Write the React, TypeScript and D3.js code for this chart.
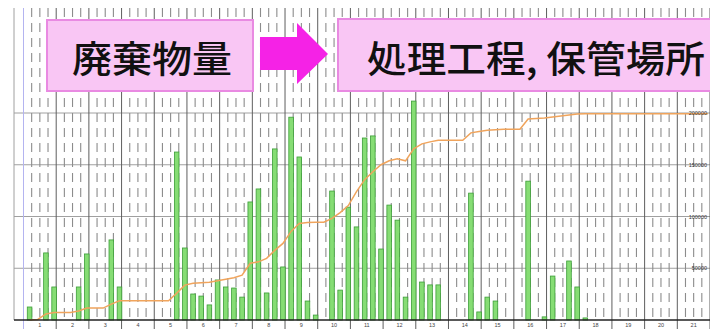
import * as d3 from 'd3';
import React from 'react';

// month groups along the bottom (4 week slots each)
const groupLabels = [
  '1', '2', '3', '4', '5', '6', '7', '8', '9', '10', '11',
  '12', '13', '14', '15', '16', '17', '18', '19', '20', '21',
];

// weekly waste amount (bars, left axis)
const barSlots = [
  0, 2, 3, 6, 7, 10, 11, 18, 19, 20, 21, 22, 23, 24, 25, 26, 27, 28, 29, 30,
  31, 32, 33, 34, 35, 37, 38, 39, 40, 41, 42, 43, 44, 45, 46, 47, 48, 49, 50,
  54, 55, 56, 57, 61, 63, 64, 66, 67, 68,
];
const barValues = [
  250, 1290, 635, 635, 1270, 1540, 635, 3230, 1385, 500, 460, 290, 770, 635, 615, 440, 2270, 2520, 520, 3290,
  1020, 3900, 3135, 365, 95, 2480, 575, 2170, 1790, 3500, 3540, 1365, 2210, 1920, 440, 4210, 730, 675, 675,
  2440, 155, 440, 365, 2670, 60, 845, 1135, 635, 40,
];

// cumulative amount per week slot (line, right axis)
const cumulative = [
  0, 500, 5800, 7200, 7200, 7200, 8700, 11500, 11500, 11500,
  15400, 18600, 18600, 18600, 18600, 18600, 18600, 18600, 26000, 33700,
  35600, 36000, 36500, 38000, 39400, 40900, 43300, 54800, 56200, 59600,
  67300, 74000, 85600, 93300, 94200, 94500, 94500, 98100, 103800, 110600,
  124000, 135600, 143300, 150000, 153800, 155800, 153800, 165400, 170200, 172100,
  173600, 173700, 173700, 173700, 180800, 182200, 183400, 183900, 184300, 184300,
  184300, 194200, 194700, 195200, 196200, 197100, 198100, 199000, 199300, 199300,
  199300, 199300, 199300, 199300, 199300, 199300, 199300, 199300, 199300, 199300,
  199300, 199300, 199300, 199300,
];

const rightTicks = [50000, 100000, 150000, 200000];

const W = 710;
const H = 329;
const top = 8;
const base = 320;
const left = 14;

const App = () => {
  const nSlots = groupLabels.length * 4;
  const x = d3.scaleLinear().domain([0, nSlots]).range([23.5, 710]);
  const yBar = d3.scaleLinear().domain([0, 6000]).range([base, top]);
  const yLine = d3.scaleLinear().domain([0, 200000]).range([base, 113]);
  const slotX = (k: number) => x(k + 0.5) + 2;

  const line = d3
    .line<number>()
    .x((_, i) => slotX(i))
    .y(d => yLine(d));

  const dashed: number[] = [];
  groupLabels.forEach((_, g) => {
    for (let j = 1; j < 4; j++) dashed.push(g * 4 + j);
  });

  const cjk = "'Noto Sans CJK JP', 'Noto Sans CJK SC', sans-serif";

  return (
    <svg
      width={W}
      height={H}
      style={{ position: 'absolute', left: 0, top: 0, background: '#fff' }}
      fontFamily="Arial, 'Liberation Sans', sans-serif"
    >
      {/* horizontal grid */}
      {rightTicks.map(t => (
        <line key={t} x1={left} x2={W} y1={yLine(t)} y2={yLine(t)} stroke="#a0a0a0" strokeWidth={1} />
      ))}
      <line x1={left} x2={left} y1={top} y2={base} stroke="#a0a0a0" />

      {/* week dashes */}
      {dashed.map(k => (
        <line
          key={k}
          x1={x(k)}
          x2={x(k)}
          y1={top}
          y2={base}
          stroke="#8c8c8c"
          strokeWidth={1.1}
          strokeDasharray="9,6"
        />
      ))}
      {/* month lines */}
      {d3.range(groupLabels.length + 1).map(g => (
        <line
          key={g}
          x1={x(g * 4)}
          x2={x(g * 4)}
          y1={top}
          y2={H}
          stroke={g === 0 ? '#b4b4f0' : '#5e5e5e'}
          strokeWidth={1}
        />
      ))}

      {/* bars */}
      {barSlots.map((k, i) => (
        <rect
          key={k}
          x={slotX(k) - 2.3}
          y={yBar(barValues[i])}
          width={4.6}
          height={base - yBar(barValues[i])}
          fill="#86dd74"
          stroke="#3c9e38"
          strokeWidth={0.8}
        />
      ))}

      {/* cumulative line */}
      <path d={line(cumulative) || ''} fill="none" stroke="#f0a45c" strokeWidth={1.5} />

      {/* axis */}
      <line x1={left} x2={W} y1={base} y2={base} stroke="#222" strokeWidth={1.5} />
      {groupLabels.map((lab, g) => (
        <text key={lab} x={x(g * 4 + 2)} y={327} fontSize={5.5} fill="#444" textAnchor="middle">
          {lab}
        </text>
      ))}
      {rightTicks.map(t => (
        <text key={t} x={707} y={yLine(t) + 2} fontSize={5.5} fill="#333" textAnchor="end">
          {t}
        </text>
      ))}

      {/* headline boxes */}
      <rect x={47} y={20} width={206} height={71} fill="#f9c6f4" stroke="#e98ae2" strokeWidth={2} />
      <text
        x={72}
        y={73}
        fontSize={37}
        fontWeight={500}
        fontFamily={cjk}
        fill="#111"
        textLength={160}
        lengthAdjust="spacingAndGlyphs"
      >
        廃棄物量
      </text>
      <path d="M260,37 L297,37 L297,23 L328,54 L297,84 L297,70 L260,70 Z" fill="#f522e6" />
      <rect x={338} y={19} width={380} height={72} fill="#f9c6f4" stroke="#e98ae2" strokeWidth={2} />
      <text
        x={367}
        y={73}
        fontSize={37}
        fontWeight={500}
        fontFamily={cjk}
        fill="#111"
        textLength={338}
        lengthAdjust="spacingAndGlyphs"
      >
        処理工程, 保管場所
      </text>
    </svg>
  );
};

export default App;
